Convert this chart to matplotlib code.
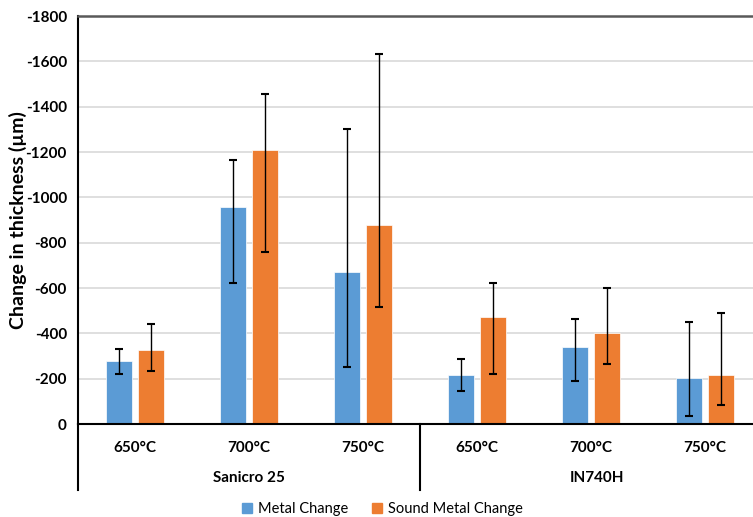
import matplotlib.pyplot as plt
import numpy as np
from matplotlib.patches import Patch

plt.rcParams['font.family'] = ['Lato', 'DejaVu Sans']
plt.rcParams['axes.unicode_minus'] = False

# данные (мкм)
temps = ['650°C', '700°C', '750°C', '650°C', '700°C', '750°C']
alloys = ['Sanicro 25', 'IN740H']

metal = [-276, -959, -672, -215, -338, -201]
metal_top = [-332, -1165, -1303, -288, -462, -449]
metal_bot = [-219, -622, -250, -144, -190, -34]

sound = [-326, -1209, -876, -474, -400, -218]
sound_top = [-443, -1454, -1631, -624, -599, -491]
sound_bot = [-235, -759, -518, -219, -266, -85]

c_metal = '#5B9BD5'
c_sound = '#ED7D31'

fig = plt.figure(figsize=(7.53, 5.17), dpi=100)
ax = fig.add_axes([78 / 753, 93 / 517, 675 / 753, 408 / 517])

x = np.arange(len(temps))
w = 0.23
off = 0.14

def err(vals, top, bot):
    # ось перевёрнута: top - более отрицательное значение
    vals = np.array(vals)
    return [vals - np.array(top), np.array(bot) - vals]

ax.bar(x - off, metal, w, color=c_metal, edgecolor='white', linewidth=0.5, zorder=2)
ax.bar(x + off, sound, w, color=c_sound, edgecolor='white', linewidth=0.5, zorder=2)
ax.errorbar(x - off, metal, yerr=err(metal, metal_top, metal_bot), fmt='none',
            ecolor='black', elinewidth=1, capsize=3, capthick=1.5, zorder=3)
ax.errorbar(x + off, sound, yerr=err(sound, sound_top, sound_bot), fmt='none',
            ecolor='black', elinewidth=1, capsize=3, capthick=1.5, zorder=3)

ax.set_xlim(-0.5, -0.5 + 675 / 114)
ax.set_ylim(0, -1800)
ax.set_yticks(np.arange(0, -1801, -200))
ax.yaxis.grid(True, color='#D9D9D9', linewidth=1.2, zorder=0)
ax.set_axisbelow(True)

ax.spines['right'].set_visible(False)
ax.spines['top'].set_color('#595959')
ax.spines['top'].set_linewidth(1.8)
ax.spines['bottom'].set_linewidth(1.5)
ax.spines['left'].set_linewidth(1.5)

ax.tick_params(axis='y', length=0, pad=8, labelsize=11)
ax.tick_params(axis='x', length=0, pad=12, labelsize=11)
for t in ax.get_yticklabels():
    t.set_fontweight('bold')
ax.set_xticks(x)
ax.set_xticklabels(temps, fontweight='bold')

ax.set_ylabel('Change in thickness (µm)', fontsize=14, fontweight='bold')
ax.yaxis.set_label_coords(-0.076, 0.5)

# подписи групп и разделители
tr = ax.get_xaxis_transform()
ax.plot([-0.5, -0.5], [0, -66 / 408], transform=tr, color='black', lw=1.5, clip_on=False)
ax.plot([2.5, 2.5], [0, -66 / 408], transform=tr, color='black', lw=1.5, clip_on=False)
ax.text(1, -54 / 408, alloys[0], transform=tr, ha='center', va='center',
        fontsize=11, fontweight='bold')
ax.text(4.05, -54 / 408, alloys[1], transform=tr, ha='center', va='center',
        fontsize=11, fontweight='bold')

handles = [Patch(color=c_metal, label='Metal Change'),
           Patch(color=c_sound, label='Sound Metal Change')]
fig.legend(handles=handles, loc='lower center', bbox_to_anchor=(0.508, -0.024), ncol=2,
           frameon=False, fontsize=10.5, handlelength=0.7, handleheight=0.7,
           handletextpad=0.4, columnspacing=1.6)

plt.savefig('out.png', dpi=100)
